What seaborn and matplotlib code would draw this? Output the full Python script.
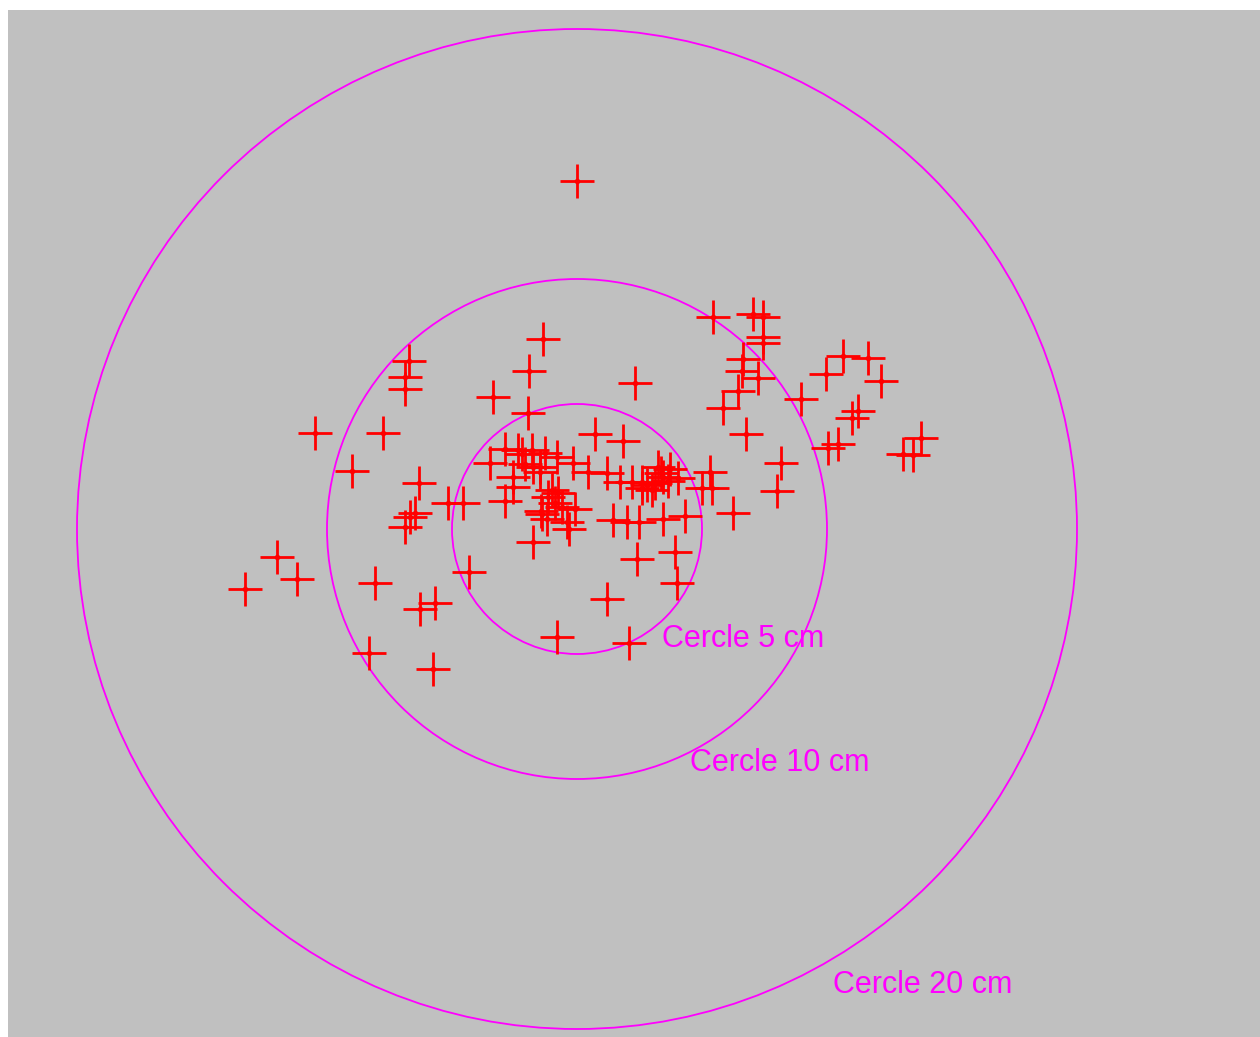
import matplotlib
matplotlib.use("Agg")
import matplotlib.pyplot as plt
from matplotlib.patches import Circle
import seaborn as sns
import pandas as pd

# Impact positions relative to the target centre, in cm
impact_x = [
    0.00, 5.44, 7.04, 7.44, 7.44, 7.44, 6.64, 6.60, 7.24, 6.44, 5.84, 6.76, 8.16, 8.96,
    9.96, 10.64, 11.64, 12.16, 11.24, 11.00, 10.44, 10.04, 13.76, 13.44, 13.04, 5.32,
    5.00, 5.40, 6.24, 8.00, -6.72, -6.88, -6.88, -10.48, -7.76, -9.00, -6.32, -5.16,
    -4.56, -6.48, -6.68, -6.88, -12.00, -11.20, -13.28, -8.08, -4.32, -6.28, -5.68,
    -8.32, -5.76, -1.36, -1.92, -3.36, -1.96, 2.32, 0.72, 1.84, 1.20, 2.20, 2.60, 2.80,
    3.12, 3.00, 3.24, 3.72, 3.44, 3.64, 4.04, 1.72, 1.44, 2.00, 2.48, 3.44, 4.32, -1.76,
    2.40, 3.92, 4.00, 1.20, -0.80, 2.08, -2.88, -2.36, -1.80, -1.28, -3.48, -2.08, -1.76,
    -1.48, -0.16, 0.44, -2.56, -2.88, -2.56, -1.44, -0.76, -0.60, -0.08, -0.40, -0.32,
    -1.40, -1.00, -0.80, -0.88, -1.48, -1.16, 2.60, 3.36, -2.20, -1.20,
]
impact_y = [
    13.92, 8.48, 8.60, 8.48, 7.68, 7.44, 6.80, 6.32, 6.04, 5.52, 4.84, 3.80, 2.64, 5.20,
    6.20, 6.92, 6.84, 5.92, 4.72, 4.44, 3.40, 3.24, 3.64, 2.96, 3.00, 2.28,
    1.64, 1.64, 0.64, 1.52, 6.72, 6.08, 5.60, 3.84, 3.84, 2.32, 1.84, 1.04,
    1.04, 0.64, 0.48, 0.08, -1.12, -2.00, -2.40, -2.16, -1.72, -3.20, -2.96,
    -4.96, -5.60, 7.60, 6.32, 5.28, 4.64, 5.84, 3.80, 3.52, 2.24, 1.88, 1.88, 1.76,
    1.84, 1.56, 2.48, 2.40, 2.08, 1.92, 2.04, 1.88, 0.36, 0.28, 0.28, 0.40, 0.52, -0.52,
    -1.20, -0.92, -2.16, -2.80, -4.32, -4.56, 3.20, 3.16, 3.16, 3.04, 2.64, 2.60, 2.48,
    2.48, 2.64, 2.28, 2.08, 1.12, 1.68, 0.72, 1.44, 0.88, 0.80, 0.28, 0.00,
    0.60, 1.56, 2.88, 1.04, 2.28, 1.28, 1.64, 2.24, 3.00, 0.40,
]

# Reference circles (radius in cm) and their captions
circle_radii = [5, 10, 20]
circle_labels = ["Cercle 5 cm", "Cercle 10 cm", "Cercle 20 cm"]
label_x = [3.40, 4.52, 10.24]
label_y = [-4.72, -9.68, -18.56]

impacts = pd.DataFrame({"x": impact_x, "y": impact_y})

sns.set_theme(style="white")
plt.rcParams["font.family"] = ["Liberation Sans", "DejaVu Sans"]

fig = plt.figure(figsize=(12.6, 10.37), dpi=100)
fig.patch.set_facecolor("white")
ax = fig.add_axes([8 / 1260, 0, 1252 / 1260, 1027 / 1037])
ax.set_facecolor("#c0c0c0")

magenta = "#ff00ff"
for r in circle_radii:
    ax.add_patch(Circle((0, 0), r, fill=False, edgecolor=magenta, linewidth=1.3, zorder=1))

sns.scatterplot(data=impacts, x="x", y="y", marker="+", s=24 ** 2, color="#ff0000",
                linewidth=2.0, ax=ax, zorder=3, legend=False)
sns.scatterplot(data=impacts, x="x", y="y", marker="o", s=16, color="#ff0000",
                linewidth=0, ax=ax, zorder=4, legend=False)

for text, tx, ty in zip(circle_labels, label_x, label_y):
    ax.text(tx, ty, text, color=magenta, fontsize=22, ha="left", va="baseline", zorder=5)

ax.set_xlim(-22.76, 27.32)
ax.set_ylim(-20.32, 20.76)
ax.set_xlabel("")
ax.set_ylabel("")
ax.set_xticks([])
ax.set_yticks([])
for spine in ax.spines.values():
    spine.set_visible(False)

fig.savefig("out.png", dpi=100, facecolor="white")
